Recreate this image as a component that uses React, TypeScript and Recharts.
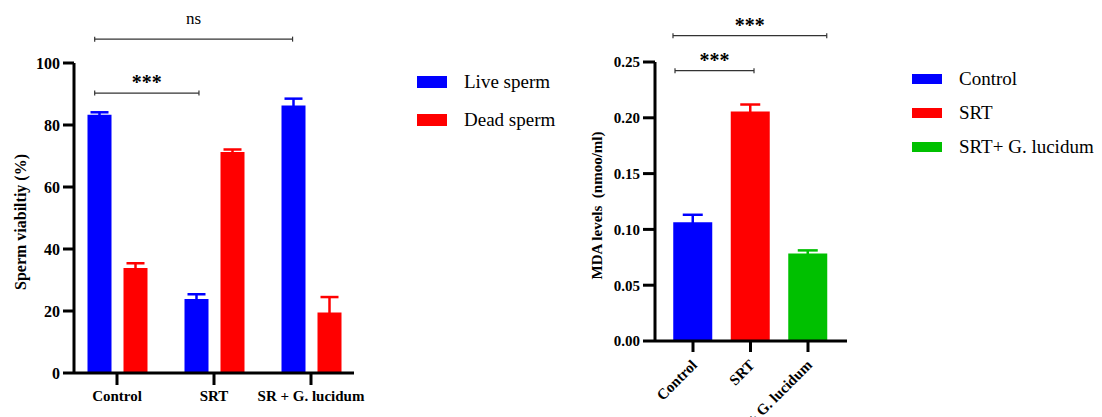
import React from 'react';
import { BarChart, Bar, XAxis, YAxis, ErrorBar, ReferenceLine, Legend } from 'recharts';

const FONT = '"Liberation Serif", "Times New Roman", Times, serif';

// ---- Left panel: sperm viability ----
const viabilityGroups = ['Control', 'SRT', 'SR + G. lucidum'];
const liveSperm = [83.3, 23.9, 86.3];
const liveSpermErr = [0.8, 1.5, 2.2];
const deadSperm = [33.9, 71.3, 19.5];
const deadSpermErr = [1.5, 0.8, 5.0];
const viabilityTicks = [0, 20, 40, 60, 80, 100];
const viabilitySeries = [
  { key: 'live', name: 'Live sperm', color: '#0000FF' },
  { key: 'dead', name: 'Dead sperm', color: '#FF0000' },
];
const viabilityBrackets = [
  { label: 'ns', from: 0.27, to: 2.31, level: 107.7 },
  { label: '***', from: 0.27, to: 1.345, level: 90.3 },
];

// ---- Right panel: MDA levels ----
const mdaGroups = ['Control', 'SRT', 'SRT+ G. lucidum'];
const mdaValues = [0.1063, 0.2056, 0.0785];
const mdaErr = [0.0068, 0.0063, 0.0027];
const mdaTicks = [0, 0.05, 0.1, 0.15, 0.2, 0.25];
const mdaKeys = ['control', 'srt', 'srtg'];
const mdaColors = ['#0000FF', '#FF0000', '#00C000'];
const mdaBrackets = [
  { label: '***', from: 0.152, to: 2.826, level: 0.2736 },
  { label: '***', from: 0.187, to: 1.561, level: 0.2422 },
];

const viabilityData = viabilityGroups.map((g, i) => ({
  group: g,
  pos: i + 0.5,
  live: liveSperm[i],
  liveErr: liveSpermErr[i],
  dead: deadSperm[i],
  deadErr: deadSpermErr[i],
}));

const mdaData = mdaGroups.map((g, i) => ({
  group: g,
  pos: i + 0.5,
  [mdaKeys[i]]: mdaValues[i],
  [mdaKeys[i] + 'Err']: mdaErr[i],
}));

const bracketShape = (label: string) => (p: any) => {
  const { x1, y1, x2, y2 } = p;
  const mid = (x1 + x2) / 2;
  const star = label.includes('*');
  return (
    <g>
      <line x1={x1} y1={y1} x2={x2} y2={y2} stroke="#333" strokeWidth={1.2} />
      <line x1={x1} y1={y1 - 2.5} x2={x1} y2={y1 + 2.5} stroke="#333" strokeWidth={1.2} />
      <line x1={x2} y1={y2 - 2.5} x2={x2} y2={y2 + 2.5} stroke="#333" strokeWidth={1.2} />
      <text
        x={mid}
        y={star ? y1 - 4 : y1 - 15}
        textAnchor="middle"
        fontFamily={FONT}
        fontSize={star ? 20 : 17}
        fontWeight={star ? 700 : 400}
        fill="#000"
      >
        {label}
      </text>
    </g>
  );
};

const yLabel = (text: string, offset: number, size: number) => (props: any) => {
  const vb = props.viewBox || {};
  const cx = vb.x + offset;
  const cy = vb.y + vb.height / 2 + 4;
  return (
    <text
      x={cx}
      y={cy}
      transform={`rotate(-90, ${cx}, ${cy})`}
      textAnchor="middle"
      dominantBaseline="central"
      fontFamily={FONT}
      fontSize={size}
      fontWeight={700}
      fill="#000"
      style={{ whiteSpace: 'pre' }}
    >
      {text}
    </text>
  );
};

const RotatedTick = (props: any) => {
  const { x, y, payload } = props;
  const ax = x + 5;
  const ay = y + 12;
  return (
    <text
      x={ax}
      y={ay}
      transform={`rotate(-45, ${ax}, ${ay})`}
      textAnchor="end"
      fontFamily={FONT}
      fontSize={15}
      fontWeight={700}
      fill="#000"
    >
      {payload.value}
    </text>
  );
};

const legendContent = (items: { name: string; color: string }[], rowH: number, rectH: number) => () => (
  <div style={{ fontFamily: FONT, fontSize: 19, color: '#000' }}>
    {items.map((it) => (
      <div key={it.name} style={{ display: 'flex', alignItems: 'center', height: rowH, whiteSpace: 'nowrap' }}>
        <span style={{ display: 'inline-block', width: 30, height: rectH, background: it.color, marginRight: 17 }} />
        <span>{it.name}</span>
      </div>
    ))}
  </div>
);

const axisStroke = { stroke: '#000', strokeWidth: 3 };

export default function App() {
  return (
    <div style={{ position: 'absolute', left: 0, top: 0, width: 1102, height: 417, background: '#fff' }}>
      <div style={{ position: 'absolute', left: 0, top: 0 }}>
        <BarChart
          width={560}
          height={417}
          data={viabilityData}
          margin={{ top: 63, right: 206, bottom: 14, left: 14 }}
          barGap={12}
          barSize={24}
        >
          <XAxis
            dataKey="group"
            padding={{ left: -5.5, right: -5.5 }}
            tickSize={12}
            tickMargin={5}
            height={30}
            interval={0}
            axisLine={axisStroke}
            tickLine={axisStroke}
            tick={{ fill: '#000', fontSize: 15, fontWeight: 700, fontFamily: FONT }}
          />
          <XAxis
            xAxisId="n"
            dataKey="pos"
            type="number"
            domain={[0, 3]}
            hide
            allowDataOverflow
            padding={{ left: -5.5, right: -5.5 }}
          />
          <YAxis
            domain={[0, 100]}
            ticks={viabilityTicks}
            width={60}
            tickSize={11}
            tickMargin={3}
            interval={0}
            axisLine={axisStroke}
            tickLine={axisStroke}
            tick={{ fill: '#000', fontSize: 16, fontWeight: 700, fontFamily: FONT }}
            label={{ content: yLabel('Sperm viabiltiy (%)', 6, 16) }}
          />
          {viabilitySeries.map((s) => (
            <Bar key={s.key} dataKey={s.key} name={s.name} fill={s.color} isAnimationActive={false}>
              <ErrorBar dataKey={s.key + 'Err'} direction="y" width={9} stroke={s.color} strokeWidth={2.5} />
            </Bar>
          ))}
          {viabilityBrackets.map((b, i) => (
            <ReferenceLine
              key={i}
              xAxisId="n"
              segment={[{ x: b.from, y: b.level }, { x: b.to, y: b.level }]}
              ifOverflow="visible"
              shape={bracketShape(b.label)}
            />
          ))}
          <Legend
            layout="horizontal"
            align="center"
            verticalAlign="middle"
            wrapperStyle={{ left: 417, top: 63, width: 180, height: 76 }}
            content={legendContent(viabilitySeries, 38, 12)}
          />
        </BarChart>
      </div>
      <div style={{ position: 'absolute', left: 560, top: 0 }}>
        <BarChart
          width={542}
          height={417}
          data={mdaData}
          margin={{ top: 62, right: 255, bottom: 16, left: 15 }}
          barSize={39}
        >
          <XAxis
            dataKey="group"
            padding={{ left: 9.25, right: 10.25 }}
            tickSize={11}
            tickMargin={2}
            height={60}
            interval={0}
            axisLine={axisStroke}
            tickLine={axisStroke}
            tick={<RotatedTick />}
          />
          <XAxis
            xAxisId="n"
            dataKey="pos"
            type="number"
            domain={[0, 3]}
            hide
            allowDataOverflow
            padding={{ left: 9.25, right: 10.25 }}
          />
          <YAxis
            domain={[0, 0.25]}
            ticks={mdaTicks}
            width={80}
            tickSize={12}
            tickMargin={3}
            interval={0}
            tickFormatter={(v: number) => v.toFixed(2)}
            axisLine={axisStroke}
            tickLine={axisStroke}
            tick={{ fill: '#000', fontSize: 15, fontWeight: 700, fontFamily: FONT }}
            label={{ content: yLabel('MDA levels\u00a0 (nmoo/ml)', 21.5, 15) }}
          />
          {mdaKeys.map((k, i) => (
            <Bar key={k} dataKey={k} name={mdaGroups[i]} stackId="mda" fill={mdaColors[i]} isAnimationActive={false}>
              <ErrorBar dataKey={k + 'Err'} direction="y" width={10} stroke={mdaColors[i]} strokeWidth={2.5} />
            </Bar>
          ))}
          {mdaBrackets.map((b, i) => (
            <ReferenceLine
              key={i}
              xAxisId="n"
              segment={[{ x: b.from, y: b.level }, { x: b.to, y: b.level }]}
              ifOverflow="visible"
              shape={bracketShape(b.label)}
            />
          ))}
          <Legend
            layout="horizontal"
            align="center"
            verticalAlign="middle"
            wrapperStyle={{ left: 352, top: 62, width: 190, height: 102 }}
            content={legendContent(mdaGroups.map((g, i) => ({ name: g, color: mdaColors[i] })), 34, 10)}
          />
        </BarChart>
      </div>
    </div>
  );
}
